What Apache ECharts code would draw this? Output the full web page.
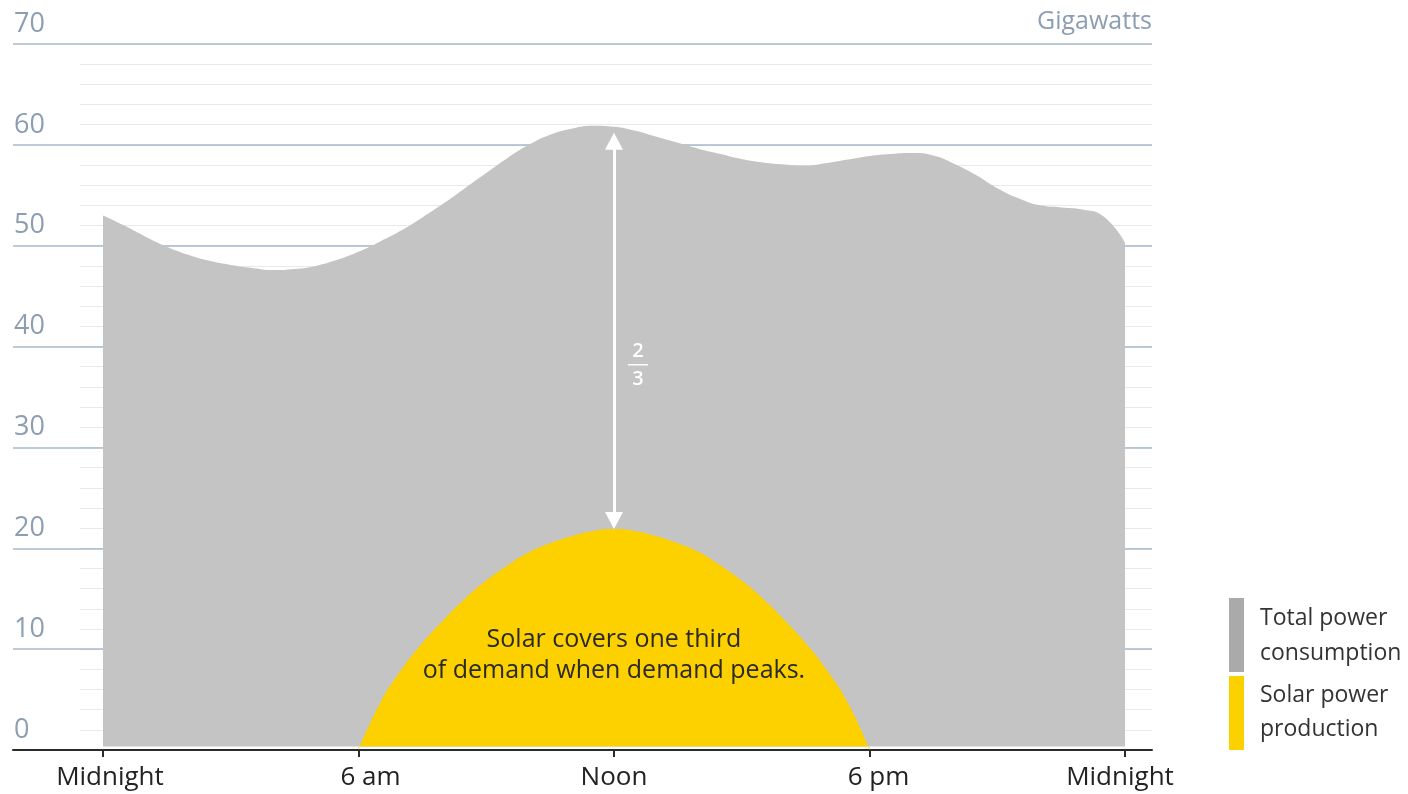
<!DOCTYPE html>
<html>
<head>
<meta charset="utf-8">
<script src="https://cdn.jsdelivr.net/npm/echarts@6/dist/echarts.min.js"></script>
<style>
  html, body { margin: 0; padding: 0; background: #ffffff; }
  #chart { width: 1408px; height: 794px; }
</style>
</head>
<body>
<div id="chart"></div>
<script>
// Half-hourly power over one day, in gigawatts (hour 0 = midnight).
const TOTAL_HOURS = [0, 0.5, 1, 1.5, 2, 2.5, 3, 3.5, 4, 4.5, 5, 5.5, 6, 6.5, 7, 7.5, 8, 8.5, 9, 9.5, 10, 10.5, 11, 11.5, 12,
                     12.5, 13, 13.5, 14, 14.5, 15, 15.5, 16, 16.5, 17, 17.5, 18, 18.5, 19, 19.5, 20, 20.5, 21, 21.5, 22, 22.5, 23, 23.5, 24];
const TOTAL_GW    = [53.0, 52.0, 50.9, 49.9, 49.1, 48.5, 48.1, 47.8, 47.6, 47.7, 48.0, 48.6, 49.4, 50.4, 51.5, 52.8, 54.2, 55.7, 57.2, 58.7, 60.0, 61.0, 61.6, 61.9, 61.8,
                     61.4, 60.8, 60.2, 59.6, 59.1, 58.6, 58.25, 58.05, 57.95, 58.2, 58.55, 58.9, 59.1, 59.2, 58.95, 58.1, 57.0, 55.7, 54.7, 54.0, 53.8, 53.6, 52.9, 50.3];

const SOLAR_HOURS = [6, 6.5, 7, 7.5, 8, 8.5, 9, 9.5, 10, 10.5, 11, 11.5, 12, 12.5, 13, 13.5, 14, 14.5, 15, 15.5, 16, 16.5, 17, 17.5, 18];
const SOLAR_GW    = [0, 4.6, 7.9, 10.6, 12.9, 15.0, 16.8, 18.3, 19.6, 20.5, 21.2, 21.7, 21.9, 21.7, 21.2, 20.5, 19.6, 18.3, 16.8, 15.0, 12.9, 10.6, 7.9, 4.6, 0];

// x-axis ticks and their labels
const HOUR_TICKS  = [0, 6, 12, 18, 24];
const HOUR_LABELS = ['Midnight', '6 am', 'Noon', '6 pm', 'Midnight'];
// small horizontal nudges of the tick labels (px)
const LABEL_NUDGE = [7, 12, 0, 9, -5];

// y-axis range (GW)
const Y_MIN = 0, Y_MAX = 70, Y_MAJOR = 10, Y_MINOR = 2;

// Areas rest just above the zero line
const AREA_BASE = 0.35;

const NOON = 12;
const SOLAR_PEAK = SOLAR_GW[SOLAR_HOURS.indexOf(NOON)];
const TOTAL_NOON = TOTAL_GW[TOTAL_HOURS.indexOf(NOON)];
// arrowhead half-length and the gap below the demand curve, in GW
const HEAD_HALF = 0.85, TOP_GAP = 0.6;

const FONT = '"Open Sans", "Noto Sans", sans-serif';
const GREY = '#c4c4c4';
const YELLOW = '#fdd000';
const AXIS_BLUE = '#8d9eb2';

const pairs = (xs, ys) => xs.map((x, i) => [x, ys[i]]);

const labelRich = {};
LABEL_NUDGE.forEach((n, i) => {
  labelRich['t' + i] = {
    color: '#222222', fontFamily: FONT, fontSize: 26,
    padding: n >= 0 ? [0, 0, 0, 2 * n] : [0, -2 * n, 0, 0]
  };
});

const chart = echarts.init(document.getElementById('chart'), null, { renderer: 'canvas' });

const option = {
  backgroundColor: '#ffffff',
  animation: false,
  grid: [
    { left: 13, right: 256, top: 44, bottom: 44 },
    { left: 80, right: 256, top: 44, bottom: 44 }
  ],
  xAxis: [
    {
      gridIndex: 0,
      type: 'value',
      min: -2.113,
      max: 24.634,
      axisLine: { lineStyle: { color: '#2b2b2b', width: 2 } },
      axisTick: { customValues: HOUR_TICKS, length: 7, lineStyle: { color: '#2b2b2b', width: 2 } },
      axisLabel: {
        customValues: HOUR_TICKS,
        formatter: v => {
          const i = HOUR_TICKS.indexOf(v);
          return '{t' + i + '|' + HOUR_LABELS[i] + '}';
        },
        rich: labelRich,
        color: '#222222',
        fontFamily: FONT,
        fontSize: 26,
        margin: 15
      },
      splitLine: { show: false }
    },
    { gridIndex: 1, type: 'value', min: 0, max: 1, show: false }
  ],
  yAxis: [
    {
      gridIndex: 0,
      type: 'value',
      min: Y_MIN,
      max: Y_MAX,
      interval: Y_MAJOR,
      z: 1,
      axisLine: { show: false },
      axisTick: { show: false },
      axisLabel: {
        inside: true,
        margin: 1,
        align: 'left',
        verticalAlign: 'bottom',
        lineHeight: 28,
        padding: [0, 0, 6, 0],
        color: AXIS_BLUE,
        fontFamily: FONT,
        fontSize: 27
      },
      splitLine: { showMinLine: false, lineStyle: { color: '#a7b8ca', width: 1.5 } }
    },
    {
      gridIndex: 1,
      type: 'value',
      min: Y_MIN,
      max: Y_MAX,
      interval: Y_MINOR,
      z: 0,
      axisLine: { show: false },
      axisTick: { show: false },
      axisLabel: { show: false },
      splitLine: { showMinLine: false, lineStyle: { color: '#e6e9ed', width: 1 } }
    }
  ],
  series: [
    {
      name: 'Total power consumption',
      type: 'line',
      xAxisIndex: 0,
      yAxisIndex: 0,
      data: pairs(TOTAL_HOURS, TOTAL_GW),
      smooth: 0.5,
      symbol: 'none',
      lineStyle: { opacity: 0 },
      areaStyle: { color: GREY, opacity: 1, origin: AREA_BASE },
      z: 2
    },
    {
      name: 'Solar power production',
      type: 'line',
      xAxisIndex: 0,
      yAxisIndex: 0,
      data: pairs(SOLAR_HOURS, SOLAR_GW),
      smooth: 0.5,
      symbol: 'none',
      lineStyle: { opacity: 0 },
      areaStyle: { color: YELLOW, opacity: 1, origin: AREA_BASE },
      z: 3,
      markLine: {
        silent: true,
        animation: false,
        symbol: ['triangle', 'triangle'],
        symbolSize: [18, 17],
        label: { show: false },
        lineStyle: { color: '#ffffff', width: 3, type: 'solid' },
        emphasis: { disabled: true },
        data: [[
          { coord: [NOON, SOLAR_PEAK + HEAD_HALF] },
          { coord: [NOON, TOTAL_NOON - TOP_GAP - HEAD_HALF] }
        ]]
      }
    }
  ]
};

chart.setOption(option);

// Annotations placed from data coordinates
const toPx = (h, gw) => chart.convertToPixel({ xAxisIndex: 0, yAxisIndex: 0 }, [h, gw]);
const frac = toPx(NOON, 38.2);
const note = toPx(NOON, 9.4);
const topRight = toPx(24.634, Y_MAX);

const textStyle = (extra) => Object.assign({ fontFamily: FONT }, extra);

chart.setOption({
  graphic: [
    // unit label
    {
      type: 'text', x: topRight[0], y: 22, z: 100,
      style: textStyle({ text: 'Gigawatts', fill: AXIS_BLUE, fontSize: 25, align: 'right', verticalAlign: 'middle' })
    },
    // "2/3" fraction next to the arrow
    {
      type: 'group', x: frac[0] + 24, y: frac[1], z: 100,
      children: [
        { type: 'text', x: 0, y: -13, z: 100, style: textStyle({ text: '2', fill: '#ffffff', fontSize: 20, fontWeight: 600, align: 'center', verticalAlign: 'middle' }) },
        { type: 'line', z: 100, shape: { x1: -10, y1: 0, x2: 10, y2: 0 }, style: { stroke: '#ffffff', lineWidth: 1.5 } },
        { type: 'text', x: 0, y: 15, z: 100, style: textStyle({ text: '3', fill: '#ffffff', fontSize: 20, fontWeight: 600, align: 'center', verticalAlign: 'middle' }) }
      ]
    },
    // note inside the solar area
    {
      type: 'text', x: note[0], y: note[1], z: 100,
      style: textStyle({
        text: 'Solar covers one third\nof demand when demand peaks.',
        fill: '#2a2a2a', fontSize: 25, lineHeight: 31, align: 'center', verticalAlign: 'middle'
      })
    },
    // legend
    { type: 'rect', x: 1229, y: 598, z: 100, shape: { width: 15, height: 74 }, style: { fill: '#aaaaaa' } },
    { type: 'rect', x: 1229, y: 676, z: 100, shape: { width: 15, height: 74 }, style: { fill: YELLOW } },
    { type: 'text', x: 1260, y: 618, z: 100, style: textStyle({ text: 'Total power', fill: '#333333', fontSize: 23, verticalAlign: 'middle' }) },
    { type: 'text', x: 1260, y: 653, z: 100, style: textStyle({ text: 'consumption', fill: '#333333', fontSize: 23, verticalAlign: 'middle' }) },
    { type: 'text', x: 1260, y: 695, z: 100, style: textStyle({ text: 'Solar power', fill: '#333333', fontSize: 23, verticalAlign: 'middle' }) },
    { type: 'text', x: 1260, y: 729, z: 100, style: textStyle({ text: 'production', fill: '#333333', fontSize: 23, verticalAlign: 'middle' }) }
  ]
});
</script>
</body>
</html>
